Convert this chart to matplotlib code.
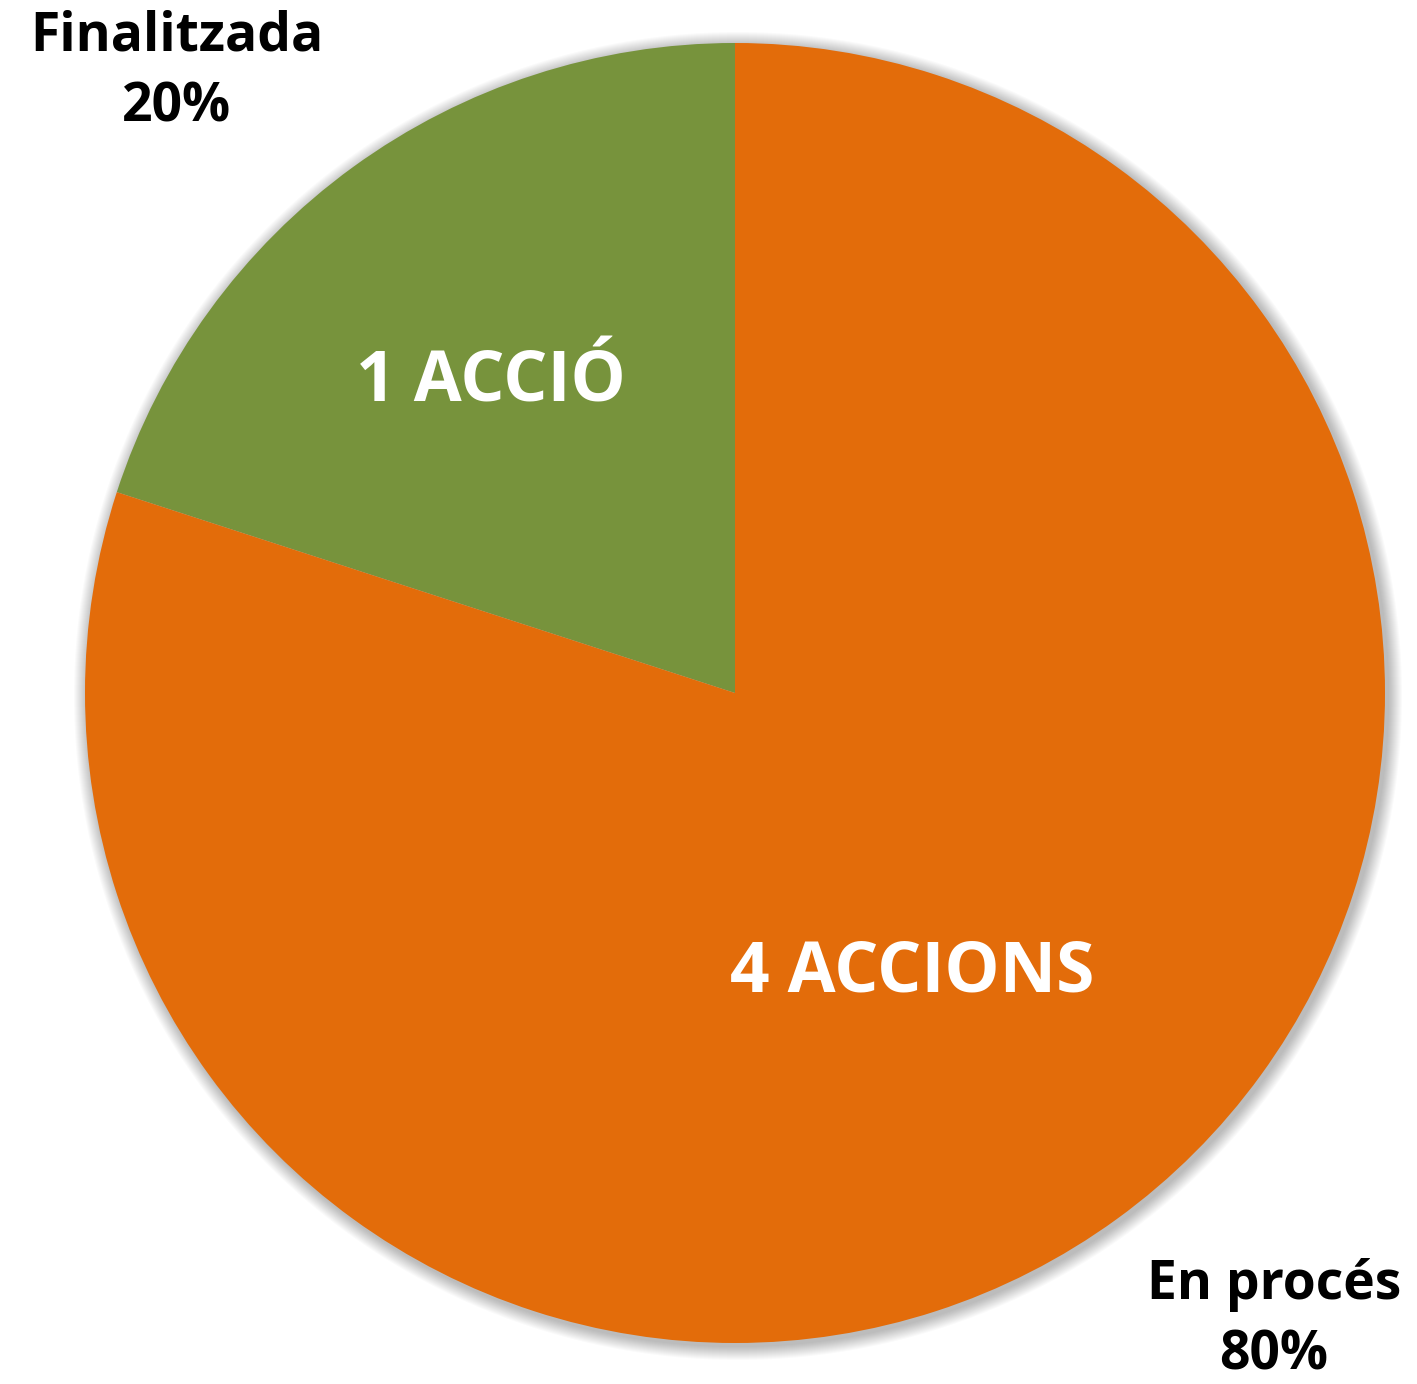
import matplotlib.pyplot as plt
from matplotlib.patches import Circle

# Data
labels = ['Finalitzada', 'En procés']
counts = [1, 4]
inner_text = ['1 ACCIÓ', '4 ACCIONS']
colors = ['#77933C', '#E36C0A']

plt.rcParams['font.family'] = ['Open Sans', 'DejaVu Sans']

W, H = 1417, 1384
fig = plt.figure(figsize=(W / 100, H / 100), dpi=100)
ax = fig.add_axes([0, 0, 1, 1])

cx, cy, r = 735, H - 693, 650

# soft shadow behind the pie
for k in range(14, 0, -1):
    ax.add_patch(Circle((cx + 3, cy - 3), r + k, color='black', alpha=0.018,
                        lw=0, zorder=0))

total = sum(counts)
ax.pie(counts, colors=colors, startangle=90, counterclock=True,
       radius=r, center=(cx, cy), frame=True,
       wedgeprops=dict(linewidth=0, zorder=2))
ax.set_xlim(0, W)
ax.set_ylim(0, H)
ax.set_aspect('equal')
ax.axis('off')

# inner labels
ax.text(491, H - 384, inner_text[0], color='white', fontsize=50,
        fontweight='bold', ha='center', va='center', zorder=5)
ax.text(912, H - 974, inner_text[1], color='white', fontsize=50,
        fontweight='bold', ha='center', va='center', zorder=5)

# outer labels
pct = [f'{c / total * 100:.0f}%' for c in counts]
ax.text(177, H - 72, f'{labels[0]}\n{pct[0]}', color='black', fontsize=38.5,
        fontweight='bold', ha='center', va='center', linespacing=1.4)
ax.text(1274, H - 1320, f'{labels[1]}\n{pct[1]}', color='black', fontsize=38.5,
        fontweight='bold', ha='center', va='center', linespacing=1.4)

fig.savefig('out.png', dpi=100)
